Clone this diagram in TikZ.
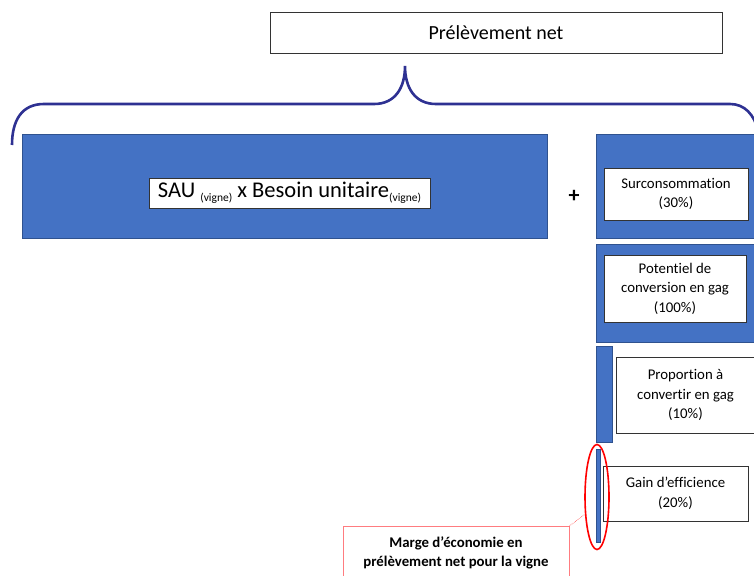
\documentclass[tikz,border=0pt]{standalone}
\usepackage{fontspec}
\setmainfont[Ligatures=NoCommon]{Carlito}
\usetikzlibrary{shapes.geometric,positioning}

\definecolor{bleu}{HTML}{4472C4}
\definecolor{bleufonce}{HTML}{2F528F}
\definecolor{accolade}{HTML}{2E3192}
\definecolor{rose}{HTML}{FF7C80}

\tikzset{
	bloc/.style={fill=bleu,draw=bleufonce,line width=0.8pt},
	boite/.style={draw=black!80,fill=white,line width=0.6pt,align=center,inner sep=0pt,font=\fontsize{14.8}{19.5}\selectfont},
}

\newcommand{\vigne}{\raisebox{-0.35ex}{\fontsize{11.5}{11.5}\selectfont (vigne)}}

\begin{document}
\begin{tikzpicture}[x=1pt,y=-1pt]
		\useasboundingbox (0,0) rectangle (754,575);
		% titre
		\node[boite,minimum width=452,minimum height=41,font=\fontsize{20}{22}\selectfont] (prelev) at (496,32.5) {Prélèvement net};
		% accolade
		\draw[accolade,line width=2.6pt] (12,145) .. controls (12,120) and (22,104) .. (44,104) -- (374,104) .. controls (395,104) and (405,88) .. (405,66) .. controls (405,88) and (415,104) .. (436,104) -- (730,104) .. controls (745,104) and (754,115) .. (758,130);
		% blocs bleus
		\draw[bloc] (22,134) rectangle (547,238);
		\draw[bloc] (596,134) rectangle (760,238);
		\draw[bloc] (596,244) rectangle (760,342);
		\draw[bloc] (596,346) rectangle (612,442);
		\draw[bloc,line width=0.5pt] (596,449) rectangle (600,542);
		% boites
		\node[boite,minimum width=281,minimum height=30,font=\fontsize{22.5}{24}\selectfont] (sau) at (289.5,193) {SAU \vigne{} x Besoin unitaire\vigne};
		\node[font=\fontsize{22}{22}\selectfont\bfseries] (plus) at (574,196) {+};
		\node[boite,minimum width=144,minimum height=52] (surconso) at (676,194) {Surconsommation\\(30\%)};
		\node[boite,minimum width=142,minimum height=67] (potentiel) at (675,288.5) {Potentiel de\\conversion en gag\\(100\%)};
		\node[boite,minimum width=139,minimum height=76] (proportion) at (685.5,395) {Proportion à\\convertir en gag\\(10\%)};
		\node[boite,minimum width=145,minimum height=55] (gain) at (675.5,493.5) {Gain d’efficience\\(20\%)};
		% marge
		\node[draw=red,line width=1.6pt,ellipse,minimum width=24,minimum height=105,inner sep=0pt] (cercle) at (597,497) {};
		\node[draw=rose,line width=0.8pt,anchor=north,minimum width=226,minimum height=80,align=center,text depth=40pt,inner ysep=10pt,font=\fontsize{14.8}{19.5}\selectfont\bfseries] (marge) at (456,526) {Marge d’économie en\\prélèvement net pour la vigne};
		\draw[red,densely dotted,line width=0.5pt] (marge.north east) -- (cercle.235);
	\end{tikzpicture}
\end{document}
